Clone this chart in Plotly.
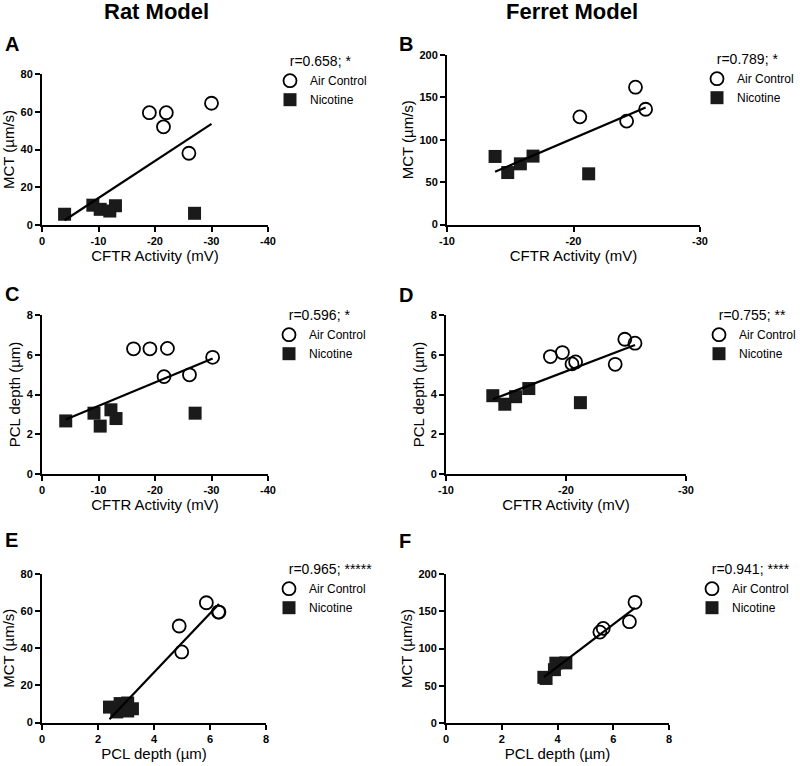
import numpy as np
import plotly.graph_objects as go

W, H = 800, 766

# ---------------- data ----------------
# Panel A: Rat, CFTR activity (mV) vs MCT (um/s)
A_air_x = [-19.0, -22.0, -21.5, -26.0, -30.0]
A_air_y = [59.5, 59.5, 52.0, 38.0, 64.5]
A_nic_x = [-4.0, -9.0, -10.3, -12.0, -13.0, -27.0]
A_nic_y = [5.7, 10.5, 8.3, 7.4, 10.2, 6.2]

# Panel B: Ferret, CFTR activity (mV) vs MCT (um/s)
B_air_x = [-20.5, -24.2, -24.9, -25.7]
B_air_y = [127.0, 122.0, 162.0, 136.0]
B_nic_x = [-13.8, -14.8, -15.8, -16.8, -21.2]
B_nic_y = [80.3, 61.3, 71.6, 80.7, 59.8]

# Panel C: Rat, CFTR activity (mV) vs PCL depth (um)
C_air_x = [-16.2, -19.1, -22.2, -21.6, -26.1, -30.2]
C_air_y = [6.30, 6.30, 6.32, 4.90, 4.99, 5.87]
C_nic_x = [-4.2, -9.2, -10.3, -12.2, -13.1, -27.1]
C_nic_y = [2.67, 3.06, 2.41, 3.23, 2.79, 3.06]

# Panel D: Ferret, CFTR activity (mV) vs PCL depth (um)
D_air_x = [-18.7, -19.7, -20.5, -20.8, -24.1, -24.9, -25.75]
D_air_y = [5.91, 6.11, 5.54, 5.64, 5.52, 6.78, 6.58]
D_nic_x = [-13.9, -14.9, -15.8, -16.9, -21.2]
D_nic_y = [3.94, 3.51, 3.89, 4.30, 3.59]

# Panel E: Rat, PCL depth (um) vs MCT (um/s)
E_air_x = [5.87, 6.30, 6.32, 4.90, 4.99]
E_air_y = [64.5, 59.5, 59.5, 52.0, 38.0]
E_nic_x = [2.67, 3.06, 2.41, 3.23, 2.79, 3.06]
E_nic_y = [5.7, 10.5, 8.3, 7.4, 10.2, 6.2]

# Panel F: Ferret, PCL depth (um) vs MCT (um/s)
F_air_x = [5.64, 5.52, 6.78, 6.58]
F_air_y = [127.0, 122.0, 162.0, 136.0]
F_nic_x = [3.94, 3.51, 3.89, 4.30, 3.59]
F_nic_y = [80.3, 61.3, 71.6, 80.7, 59.8]

stats = {"A": "r=0.658; *", "B": "r=0.789; *", "C": "r=0.596; *",
         "D": "r=0.755; **", "E": "r=0.965; *****", "F": "r=0.941; ****"}

cftr_rat_ticks = [0, -10, -20, -30, -40]
cftr_rat_text = ["0", "-10", "-20", "-30", "-40"]
cftr_fer_ticks = [-10, -20, -30]
cftr_fer_text = ["-10", "-20", "-30"]
pcl_ticks = [0, 2, 4, 6, 8]
mct_rat_ticks = [0, 20, 40, 60, 80]
mct_fer_ticks = [0, 50, 100, 150, 200]

# ---------------- layout geometry (pixels) ----------------
panels = {
    "A": (42, 268, 74, 225, [0, -40], [0, 80], cftr_rat_ticks, cftr_rat_text, mct_rat_ticks,
          "CFTR Activity (mV)", "MCT (µm/s)"),
    "B": (447, 700, 55, 224.5, [-10, -30], [0, 200], cftr_fer_ticks, cftr_fer_text, mct_fer_ticks,
          "CFTR Activity (mV)", "MCT (µm/s)"),
    "C": (42, 268, 315, 474, [0, -40], [0, 8], cftr_rat_ticks, cftr_rat_text, pcl_ticks,
          "CFTR Activity (mV)", "PCL depth (µm)"),
    "D": (446, 686, 315, 474, [-10, -30], [0, 8], cftr_fer_ticks, cftr_fer_text, pcl_ticks,
          "CFTR Activity (mV)", "PCL depth (µm)"),
    "E": (42, 266, 574, 722.5, [0, 8], [0, 80], pcl_ticks, [str(v) for v in pcl_ticks], mct_rat_ticks,
          "PCL depth (µm)", "MCT (µm/s)"),
    "F": (446, 669, 574, 723, [0, 8], [0, 200], pcl_ticks, [str(v) for v in pcl_ticks], mct_fer_ticks,
          "PCL depth (µm)", "MCT (µm/s)"),
}
data = {
    "A": (A_air_x, A_air_y, A_nic_x, A_nic_y),
    "B": (B_air_x, B_air_y, B_nic_x, B_nic_y),
    "C": (C_air_x, C_air_y, C_nic_x, C_nic_y),
    "D": (D_air_x, D_air_y, D_nic_x, D_nic_y),
    "E": (E_air_x, E_air_y, E_nic_x, E_nic_y),
    "F": (F_air_x, F_air_y, F_nic_x, F_nic_y),
}
legend_pos = {  # left x, top y in pixels
    "A": (280, 48), "B": (707, 46), "C": (279, 302),
    "D": (709, 302), "E": (279, 556), "F": (702, 556),
}
letter_pos = {"A": (3, 44), "B": (397, 44), "C": (3, 294),
              "D": (397, 295), "E": (3, 540), "F": (397, 541)}

FONT = "Liberation Sans, Arial, Helvetica, sans-serif"
fig = go.Figure()
layout = dict(width=W, height=H, margin=dict(l=0, r=0, t=0, b=0, autoexpand=False),
              paper_bgcolor="white", plot_bgcolor="white",
              font=dict(family=FONT, color="black"), annotations=[])

for i, key in enumerate("ABCDEF"):
    x0, x1, yt, yb, xr, yr, xt, xtt, yt_vals, xtitle, ytitle = panels[key]
    ax = "" if i == 0 else str(i + 1)
    lg = "legend" if i == 0 else f"legend{i + 1}"
    ax_x, ax_y, nx, ny = data[key]
    fig.add_trace(go.Scatter(
        x=ax_x, y=ax_y, mode="markers", name="Air Control",
        xaxis="x" + ax, yaxis="y" + ax, legend=lg, cliponaxis=False,
        marker=dict(symbol="circle-open", size=13, color="black", line=dict(width=1.8, color="black"))))
    fig.add_trace(go.Scatter(
        x=nx, y=ny, mode="markers", name="Nicotine",
        xaxis="x" + ax, yaxis="y" + ax, legend=lg, cliponaxis=False,
        marker=dict(symbol="square", size=13, color="#1a1a1a")))
    allx = np.array(list(ax_x) + list(nx))
    ally = np.array(list(ax_y) + list(ny))
    slope, icpt = np.polyfit(allx, ally, 1)
    lx = np.array([allx.min(), allx.max()])
    fig.add_trace(go.Scatter(
        x=lx, y=slope * lx + icpt, mode="lines", showlegend=False,
        xaxis="x" + ax, yaxis="y" + ax, cliponaxis=True,
        line=dict(color="black", width=2.2)))

    axis_common = dict(showline=True, linewidth=2, linecolor="black", ticks="outside",
                       ticklen=5, tickwidth=2, tickcolor="black", showgrid=False,
                       zeroline=False, automargin=False,
                       tickfont=dict(size=11, weight="bold", family=FONT))
    layout["xaxis" + ax] = dict(
        domain=[x0 / W, x1 / W], range=xr, anchor="y" + ax,
        tickvals=xt, ticktext=xtt,
        title=dict(text=xtitle, font=dict(size=15), standoff=2), **axis_common)
    layout["yaxis" + ax] = dict(
        domain=[1 - yb / H, 1 - yt / H], range=yr, anchor="x" + ax,
        tickvals=yt_vals, ticktext=[str(v) for v in yt_vals],
        title=dict(text=ytitle, font=dict(size=15), standoff=2), **axis_common)

    lx0, ly0 = legend_pos[key]
    layout[lg] = dict(x=lx0 / W, y=1 - ly0 / H, xanchor="left", yanchor="top",
                      bgcolor="rgba(0,0,0,0)", borderwidth=0, indentation=-10,
                      font=dict(size=12, family=FONT),
                      title=dict(text="&nbsp;&nbsp;" + stats[key], font=dict(size=14, family=FONT)),
                      itemsizing="trace", tracegroupgap=0)
    px, py = letter_pos[key]
    layout["annotations"].append(dict(
        text=f"<b>{key}</b>", x=px / W, y=1 - py / H, xref="paper", yref="paper",
        xanchor="left", yanchor="middle", showarrow=False, font=dict(size=20, family=FONT)))

layout["annotations"].append(dict(text="<b>Rat Model</b>", x=156 / W, y=1 - 12 / H,
                                  xref="paper", yref="paper", showarrow=False,
                                  xanchor="center", yanchor="middle",
                                  font=dict(size=22, family=FONT)))
layout["annotations"].append(dict(text="<b>Ferret Model</b>", x=572 / W, y=1 - 12 / H,
                                  xref="paper", yref="paper", showarrow=False,
                                  xanchor="center", yanchor="middle",
                                  font=dict(size=22, family=FONT)))

fig.update_layout(**layout)
fig.write_html("out.html", config={"displayModeBar": False},
               post_script="document.body.style.margin='0';document.body.style.padding='0';")
